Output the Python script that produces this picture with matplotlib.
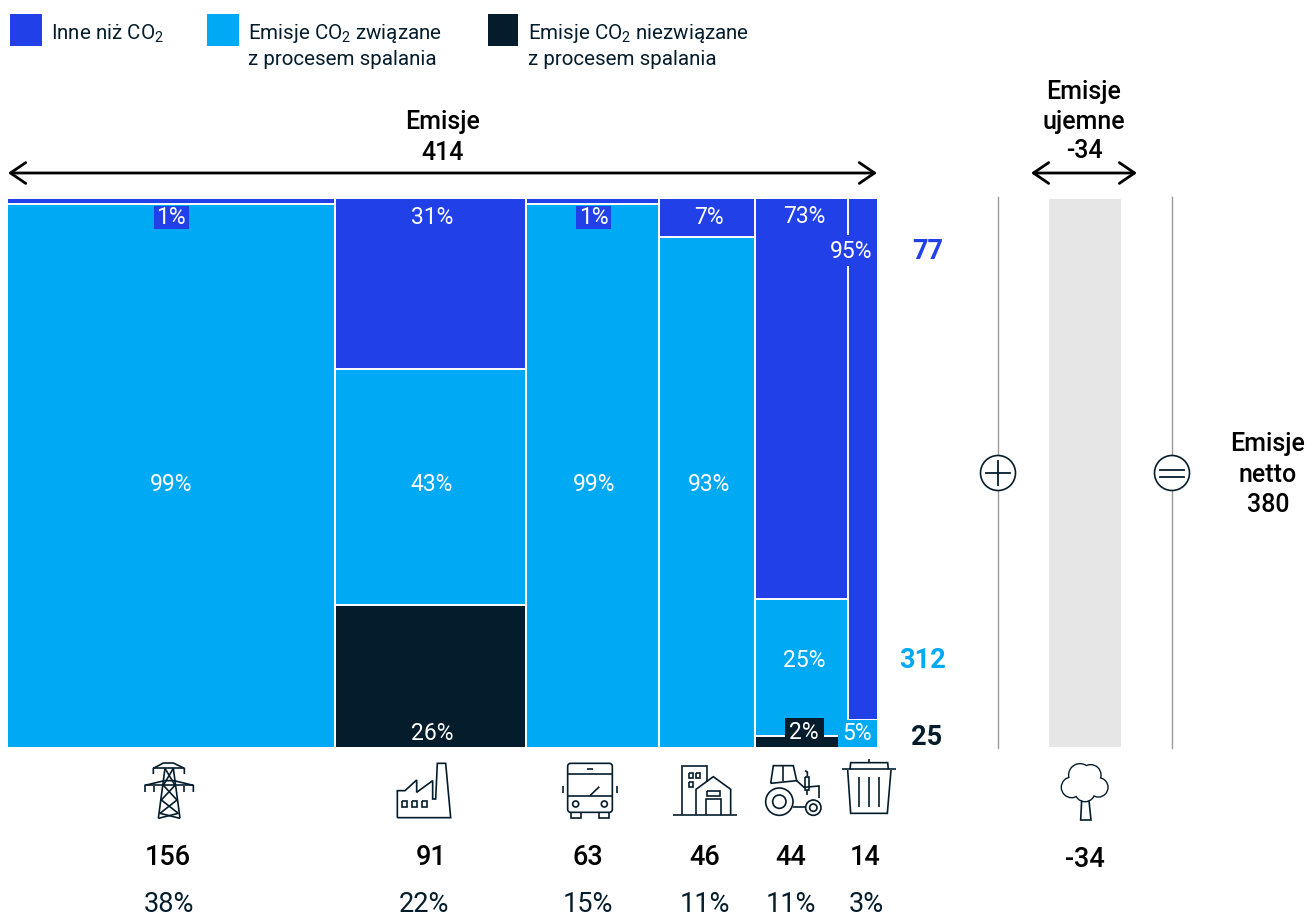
#!/usr/bin/python

import matplotlib
matplotlib.use("Agg")
import matplotlib.pyplot as plt
from matplotlib.patches import Circle, Rectangle, FancyBboxPatch

# Emisje wedlug sektora, Gt CO2e
sektory = ["energia", "przemysl", "transport", "budynki", "rolnictwo", "odpady"]
emisje_sektora = [156, 91, 63, 46, 44, 14]
udzial_sektora = ["38%", "22%", "15%", "11%", "11%", "3%"]

# Udzial rodzaju emisji w sektorze, %
inne_niz_co2 = [1, 31, 1, 7, 73, 95]
co2_spalanie = [99, 43, 99, 93, 25, 5]
co2_bez_spalania = [0, 26, 0, 0, 2, 0]

sumy_rodzajow = [77, 312, 25]
emisje_razem = 414
emisje_ujemne = -34
emisje_netto = 380

NIEBIESKI = "#2140e8"
BLEKITNY = "#00a9f4"
GRANAT = "#051c2c"
SZARY = "#e6e6e6"

plt.rcParams["font.family"] = ["Roboto", "Liberation Sans", "DejaVu Sans"]
plt.rcParams["mathtext.default"] = "regular"

fig = plt.figure(figsize=(13.09, 9.18), dpi=100)

# Os danych: x w jednostkach emisji, y w procentach
X0, X1, Y0, Y1 = 8, 877, 199, 747
px_na_jednostke = (X1 - X0) / emisje_razem
ax = fig.add_axes([X0 / 1309, (918 - Y1) / 918, (1309 - X0) / 1309, (Y1 - Y0) / 918])
ax.set_xlim(0, (1309 - X0) / px_na_jednostke)
ax.set_ylim(0, 100)
ax.axis("off")

lewe = []
poz = 0
for e in emisje_sektora:
    lewe.append(poz)
    poz += e

for i in range(len(sektory)):
    dol = 0
    for udzial, kolor in ((co2_bez_spalania[i], GRANAT),
                          (co2_spalanie[i], BLEKITNY),
                          (inne_niz_co2[i], NIEBIESKI)):
        if udzial > 0:
            ax.bar(lewe[i], udzial, width=emisje_sektora[i], bottom=dol, align="edge",
                   color=kolor, linewidth=0)
        dol += udzial
        # biala linia miedzy segmentami, bez obrysu na krawedzi wykresu
        if 0 < dol < 100 and udzial > 0:
            ax.plot([lewe[i], lewe[i] + emisje_sektora[i]], [dol, dol], color="white", lw=1.4,
                    solid_capstyle="butt")
    if i > 0:
        ax.plot([lewe[i], lewe[i]], [0, 100], color="white", lw=1.4, solid_capstyle="butt")

# Slupek emisji ujemnych
srodek_ujemnych = (1085 - X0) / px_na_jednostke
ax.bar(srodek_ujemnych, 100, width=abs(emisje_ujemne), color=SZARY, linewidth=0)

# Warstwa opisow w pikselach
pl = fig.add_axes([0, 0, 1, 1])
pl.set_xlim(0, 1309)
pl.set_ylim(918, 0)
pl.axis("off")
pl.patch.set_alpha(0)


def tekst(x, y, s, size=14.8, color=GRANAT, weight="normal", ha="center"):
    pl.text(x, y + 1.5, s, fontsize=size, color=color, fontweight=weight, ha=ha, va="center")


def kreska(punkty, ox, oy, lw=1.2, color=GRANAT, zorder=5):
    # punkty ikon zapisane w siatce 3 razy gestszej niz piksel
    xs = [ox + p[0] / 3 for p in punkty]
    ys = [oy + p[1] / 3 for p in punkty]
    pl.plot(xs, ys, color=color, lw=lw, solid_capstyle="butt", solid_joinstyle="miter", zorder=zorder)


def prostokat(x0, y0, x1, y1, ox, oy, lw=1.2):
    kreska([(x0, y0), (x1, y0), (x1, y1), (x0, y1), (x0, y0)], ox, oy, lw)


def kolko(x, y, r, ox, oy, lw=1.2, fc="none", ec=GRANAT, zorder=5):
    pl.add_patch(Circle((ox + x / 3, oy + y / 3), r / 3, fc=fc, ec=ec, lw=lw, zorder=zorder))


# Legenda
for x, szer, kolor in ((10, 32, NIEBIESKI), (207, 32, BLEKITNY), (488, 30, GRANAT)):
    pl.add_patch(Rectangle((x, 14), szer, 32, fc=kolor, lw=0))
tekst(51, 32, "Inne niż CO$_2$", ha="left")
tekst(248, 32, "Emisje CO$_2$ związane", ha="left")
tekst(248, 58, "z procesem spalania", ha="left")
tekst(528, 32, "Emisje CO$_2$ niezwiązane", ha="left")
tekst(528, 58, "z procesem spalania", ha="left")

# Naglowki i strzalki
tekst(443, 121, "Emisje", 18, "black", "medium")
tekst(443, 151, str(emisje_razem), 18, "black", "medium")
tekst(1084, 90, "Emisje", 18, "black", "medium")
tekst(1084, 120, "ujemne", 18, "black", "medium")
tekst(1084, 149, str(emisje_ujemne), 18, "black", "medium")
tekst(1268, 443, "Emisje", 18, "black", "medium")
tekst(1268, 473, "netto", 18, "black", "medium")
tekst(1268, 503, str(emisje_netto), 18, "black", "medium")

for x0, x1 in ((8, 877), (1031, 1137)):
    pl.annotate("", xy=(x1, 173), xytext=(x0, 173),
                arrowprops=dict(arrowstyle="<->,head_length=11,head_width=7.5", color="black",
                                lw=2.0, shrinkA=0, shrinkB=0, mutation_scale=1))

# Tabliczki pod etykietami, ktore nachodza na waskie segmenty
for x0, y0, x1, y1, kolor in ((154, 206, 189, 229, NIEBIESKI),
                              (576, 206, 611, 229, NIEBIESKI),
                              (828, 235, 877, 266, NIEBIESKI),
                              (785, 718, 824, 747, GRANAT),
                              (838, 720, 877, 747, BLEKITNY)):
    pl.add_patch(Rectangle((x0, y0), x1 - x0, y1 - y0, fc=kolor, lw=0, zorder=2))

# Etykiety segmentow
etykiety_x = [171, 432, 594, 709, 804, 851]
for i in range(len(sektory)):
    wiersze = [(inne_niz_co2[i], [216, 216, 216, 216, 215, 250][i], 0),
               (co2_spalanie[i], [483, 483, 483, 483, 659, 732][i], 6 if i == 5 else 0),
               (co2_bez_spalania[i], [0, 732, 0, 0, 731, 0][i], 0)]
    for udzial, y, dx in wiersze:
        if udzial > 0:
            tekst(etykiety_x[i] + dx, y, "%d%%" % udzial, 16.5, "white")

# Sumy po prawej
tekst(928, 250, str(sumy_rodzajow[0]), 19.5, NIEBIESKI, "bold")
tekst(922, 659, str(sumy_rodzajow[1]), 19.5, BLEKITNY, "bold")
tekst(927, 736, str(sumy_rodzajow[2]), 19.5, GRANAT, "bold")

# Podpisy pod slupkami
podpisy_x = [168, 431, 588, 705, 791, 865]
udzial_x = [169, 424, 588, 705, 791, 866]
for i in range(len(sektory)):
    tekst(podpisy_x[i], 856, str(emisje_sektora[i]), 19.5, "black", "medium")
    tekst(udzial_x[i], 903, udzial_sektora[i], 19.5, GRANAT)
tekst(1085, 858, str(emisje_ujemne), 19.5, "black", "medium")

# Linie z plusem i znakiem rownosci
for x in (998, 1172):
    pl.plot([x, x], [197, 748], color="#9a9a9a", lw=1.0, zorder=1)
    pl.add_patch(Circle((x, 473), 17.5, fc="white", ec=GRANAT, lw=1.2, zorder=3))
pl.plot([986, 1010], [473, 473], color=GRANAT, lw=1.3, zorder=4)
pl.plot([998, 998], [461, 485], color=GRANAT, lw=1.3, zorder=4)
pl.plot([1160, 1184], [469.5, 469.5], color=GRANAT, lw=1.3, zorder=4)
pl.plot([1160, 1184], [476.5, 476.5], color=GRANAT, lw=1.3, zorder=4)

# Ikona: slup energetyczny
ox, oy = 120, 750
kreska([(100, 72), (100, 55), (130, 39), (160, 39), (193, 55), (193, 72)], ox, oy)
kreska([(100, 55), (193, 55)], ox, oy)
kreska([(115, 205), (135, 55)], ox, oy)
kreska([(180, 205), (160, 55)], ox, oy)
kreska([(75, 126), (75, 106), (133, 92), (162, 92), (220, 106), (220, 126)], ox, oy)
kreska([(75, 106), (220, 106)], ox, oy)
kreska([(103, 108), (103, 126)], ox, oy)
kreska([(192, 108), (192, 126)], ox, oy)
kreska([(135, 55), (165, 106), (124, 150), (175, 190), (115, 205)], ox, oy)
kreska([(160, 55), (130, 106), (171, 150), (120, 190), (180, 205)], ox, oy)

# Ikona: fabryka
kreska([(832, 203), (832, 122), (855, 122), (890, 90), (890, 127), (938, 92), (938, 147),
        (947, 147), (952, 40), (977, 40), (992, 203), (832, 203)], ox, oy)
for x in (846, 876, 905):
    prostokat(x, 152, x + 16, 172, ox, oy)

# Ikona: autobus
ox, oy = 540, 750
pl.add_patch(FancyBboxPatch((ox + 86 / 3, oy + 43 / 3), 128 / 3, 141 / 3, boxstyle="round,pad=1,rounding_size=3",
                            fc="none", ec=GRANAT, lw=1.2))
kreska([(83, 72), (217, 72)], ox, oy)
kreska([(83, 137), (217, 137)], ox, oy)
kreska([(140, 57), (160, 57)], ox, oy)
kreska([(150, 137), (178, 110)], ox, oy)
kreska([(69, 108), (69, 130)], ox, oy)
kreska([(230, 108), (230, 130)], ox, oy)
kolko(107, 162, 9, ox, oy)
kolko(193, 162, 9, ox, oy)
kreska([(93, 187), (93, 203), (122, 203), (122, 187)], ox, oy)
kreska([(178, 187), (178, 203), (208, 203), (208, 187)], ox, oy)

# Ikona: budynki
kreska([(400, 194), (590, 194)], ox, oy)
kreska([(427, 194), (427, 48), (502, 48), (502, 97)], ox, oy)
kreska([(468, 194), (468, 118), (520, 80), (572, 118), (572, 194)], ox, oy)
kreska([(498, 194), (498, 148), (542, 148), (542, 194)], ox, oy)
prostokat(501, 124, 539, 137, ox, oy)
prostokat(446, 70, 458, 85, ox, oy)
prostokat(468, 70, 481, 85, ox, oy)
prostokat(446, 95, 458, 110, ox, oy)

# Ikona: traktor
ox, oy = 740, 700
kolko(118, 305, 41, ox, oy)
kolko(118, 305, 20, ox, oy)
kolko(220, 323, 23, ox, oy)
kolko(220, 323, 11, ox, oy)
kreska([(92, 250), (100, 197), (160, 197), (170, 242), (92, 250)], ox, oy)
kreska([(130, 198), (130, 242)], ox, oy)
kreska([(170, 242), (192, 262), (237, 258), (237, 294)], ox, oy)
kreska([(160, 322), (197, 322)], ox, oy)
prostokat(195, 230, 208, 270, ox, oy)
kreska([(195, 212), (202, 216), (202, 230)], ox, oy)
kreska([(202, 270), (202, 285)], ox, oy)

# Ikona: kosz na smieci
kreska([(307, 208), (467, 208)], ox, oy)
kreska([(330, 208), (332, 188), (443, 188), (445, 208)], ox, oy)
kreska([(387, 178), (387, 188)], ox, oy)
kreska([(323, 210), (332, 340), (442, 340), (453, 210)], ox, oy)
for x in (358, 387, 416):
    kreska([(x, 232), (x, 322)], ox, oy)

# Ikona: drzewo
ox, oy = 1030, 730
korona = [(150, 135, 32), (182, 135, 29), (125, 172, 29), (205, 172, 27), (165, 185, 28)]
for x, y, r in korona:
    kolko(x, y, r, ox, oy, lw=2.0, zorder=5)
for x, y, r in korona:
    kolko(x, y, r, ox, oy, lw=0, fc="white", ec="none", zorder=6)
kreska([(155, 212), (152, 270), (183, 270), (177, 212)], ox, oy, zorder=7)

fig.savefig("out.png", dpi=100)
